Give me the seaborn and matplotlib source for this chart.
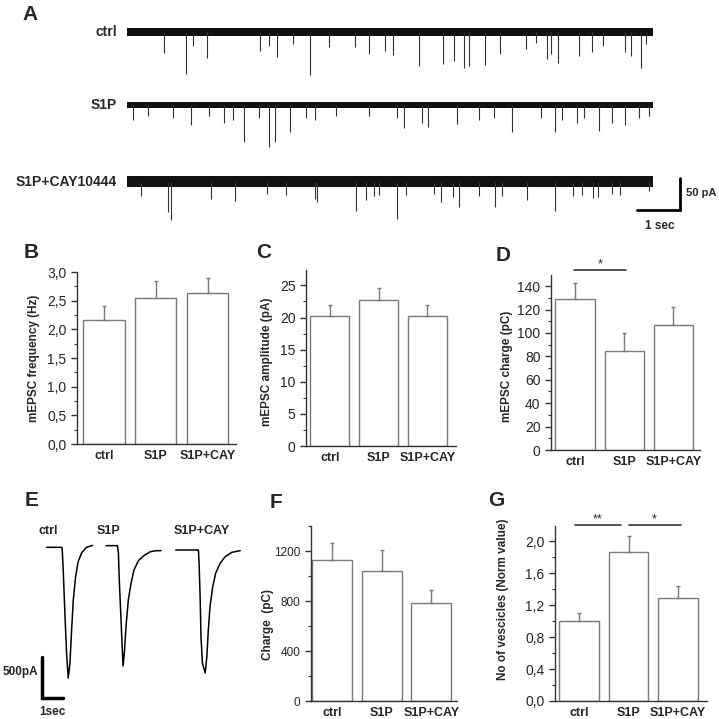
import numpy as np
import seaborn as sns
import matplotlib.pyplot as plt
from matplotlib.ticker import MultipleLocator, FuncFormatter

# ---- data ----
groups = ['ctrl', 'S1P', 'S1P+CAY']

freq_mean = [2.16, 2.54, 2.64]
freq_sem = [0.25, 0.30, 0.25]
amp_mean = [20.3, 22.7, 20.2]
amp_sem = [1.6, 1.9, 1.7]
charge_mean = [129, 85, 107]
charge_sem = [14, 15, 15]
evoked_mean = [1128, 1037, 781]
evoked_sem = [133, 171, 104]
vesicle_mean = [1.00, 1.87, 1.29]
vesicle_sem = [0.10, 0.19, 0.15]

# panel A: spontaneous events (time in s, amplitude in pA) per trace
trace_names = ['ctrl', 'S1P', 'S1P+CAY10444']
trace_offsets = [0, -114, -234]
trace_noise = [6, 5, 8.5]
trace_len = 12.23
ctrl_ev_t = [0.86, 1.37, 1.53, 1.86, 3.10, 3.30, 3.50, 3.86, 4.26, 4.70, 5.30, 5.63, 6.01, 6.19,
             6.79, 7.36, 7.60, 7.83, 7.95, 8.33, 8.67, 9.28, 9.51, 9.76, 9.87, 10.03, 10.51,
             10.81, 11.07, 11.59, 11.73, 11.95, 12.07]
ctrl_ev_a = [32, 65, 22, 40, 30, 22, 39, 19, 67, 24, 23, 34, 30, 36, 53, 50, 46, 56, 53, 52,
             34, 26, 17, 42, 35, 48, 38, 31, 22, 31, 38, 56, 19]
s1p_ev_t = [0.14, 0.50, 1.06, 1.50, 1.90, 2.25, 2.46, 2.73, 3.06, 3.30, 3.45, 3.78, 4.17, 4.38,
            4.86, 5.62, 6.27, 6.44, 6.87, 7.01, 7.67, 8.19, 8.53, 8.95, 9.63, 9.95, 10.11,
            10.47, 10.63, 10.97, 11.29, 11.59, 11.91, 12.15]
s1p_ev_a = [23, 17, 20, 32, 17, 28, 23, 58, 20, 65, 58, 43, 21, 23, 17, 17, 20, 36, 28, 34,
            30, 23, 21, 42, 20, 42, 23, 28, 21, 41, 28, 32, 20, 17]
cay_ev_t = [0.32, 0.96, 1.02, 1.96, 2.52, 3.26, 3.70, 4.38, 4.42, 5.32, 5.57, 5.75, 5.87, 6.27,
            6.49, 7.15, 7.31, 7.59, 7.73, 8.19, 8.56, 8.73, 9.31, 9.95, 10.37, 10.59, 10.83,
            10.95, 11.27, 11.47, 12.15]
cay_ev_a = [22, 48, 59, 27, 30, 19, 20, 27, 32, 46, 28, 22, 21, 58, 21, 19, 32, 24, 40, 22,
            39, 23, 28, 46, 22, 21, 26, 24, 19, 20, 15]

# panel E: averaged mEPSC waveforms (s, pA)
wave_starts = [2.22, 5.05, 8.37]
ctrl_wt = [0, 0.71, 0.74, 0.79, 0.87, 0.95, 1.03, 1.11, 1.19, 1.27, 1.38, 1.50, 1.67, 1.90, 2.19]
ctrl_wi = [0, 0, -12, -277, -805, -1293, -1594, -1415, -1009, -643, -359, -176, -66, 0, 24]
s1p_wt = [0, 0.54, 0.59, 0.63, 0.70, 0.76, 0.81, 0.87, 0.95, 1.06, 1.19, 1.33, 1.54, 1.78, 2.10,
          2.41, 2.62]
s1p_wi = [20, 20, -73, -399, -805, -1171, -1448, -1293, -968, -643, -439, -277, -163, -106, -54,
          -41, -41]
cay_wt = [0, 1.08, 1.11, 1.16, 1.20, 1.27, 1.40, 1.48, 1.55, 1.63, 1.76, 1.90, 2.11, 2.35, 2.67, 3.07]
cay_wi = [-33, -33, -195, -602, -1090, -1415, -1533, -1334, -1009, -724, -480, -317, -195, -115,
          -61, -41]

sns.set_style('ticks')
plt.rcParams['font.family'] = ['Liberation Sans', 'DejaVu Sans']

W = H = 719
fig = plt.figure(figsize=(W / 100, H / 100), dpi=100)
fig.patch.set_facecolor('white')


def px_axes(left, top, right, bottom):
    return fig.add_axes([left / W, 1 - bottom / H, (right - left) / W, (bottom - top) / H])


def letter(x, y, s):
    fig.text(x / W, 1 - y / H, s, fontsize=15, fontweight='bold', ha='center', va='center')


def comma(decimals):
    return FuncFormatter(lambda v, p: f'{v:.{decimals}f}'.replace('.', ','))


def bar_panel(box, means, sems, ylim, xlim, major, minor, ylabel, label_xy, fmt=None, tick_size=10):
    ax = px_axes(*box)
    sns.barplot(x=groups, y=means, ax=ax, color='white', edgecolor='#7a7a7a',
                linewidth=1, width=0.8, errorbar=None, saturation=1)
    ax.errorbar(range(3), means, yerr=[[0, 0, 0], sems], fmt='none', ecolor='#7a7a7a',
                elinewidth=1, capsize=1.5, capthick=1)
    ax.set_ylim(*ylim)
    ax.set_xlim(*xlim)
    ax.yaxis.set_major_locator(MultipleLocator(major))
    ax.yaxis.set_minor_locator(MultipleLocator(minor))
    if fmt is not None:
        ax.yaxis.set_major_formatter(fmt)
    ax.tick_params(axis='y', which='major', length=4, width=1, labelsize=tick_size, color='#333333')
    ax.tick_params(axis='y', which='minor', length=2, width=0.8, color='#333333')
    ax.tick_params(axis='x', length=0, labelsize=9, pad=4)
    for t in ax.get_xticklabels():
        t.set_fontweight('bold')
    sns.despine(ax=ax)
    for s in ['left', 'bottom']:
        ax.spines[s].set_color('#333333')
        ax.spines[s].set_linewidth(1)
    ax.set_xlabel('')
    ax.set_ylabel(ylabel, fontsize=8.5, fontweight='bold')
    ax.yaxis.set_label_coords(*label_xy)
    ax.set_facecolor('none')
    return ax


def sig_bar(ax, x0, x1, y, text):
    ax.plot([x0, x1], [y, y], color='#333333', lw=1.2, clip_on=False)
    ax.text((x0 + x1) / 2, y, text, ha='center', va='bottom', fontsize=9, clip_on=False)


# ---- panel A ----
axA = px_axes(127, 15, 719, 240)
axA.set_xlim(0, 13.77)
axA.set_ylim(-325, 26.6)
axA.axis('off')
events = [(ctrl_ev_t, ctrl_ev_a), (s1p_ev_t, s1p_ev_a), (cay_ev_t, cay_ev_a)]
for name, base, noise, (et, ea) in zip(trace_names, trace_offsets, trace_noise, events):
    axA.fill_between([0, trace_len], base - noise, base + noise, color='#111111', lw=0)
    axA.vlines(et, base, base - np.array(ea), color='#333333', lw=0.8)
    axA.text(-0.23, base, name, ha='right', va='center', fontsize=10, fontweight='bold')
axA.plot([11.86, 12.86, 12.86], [-278, -278, -228], color='black', lw=2, solid_joinstyle='miter')
axA.text(13.0, -252, '50 pA', ha='left', va='center', fontsize=8, fontweight='bold')
axA.text(12.4, -303, '1 sec', ha='center', va='center', fontsize=8.5, fontweight='bold')
letter(30, 15, 'A')

# ---- panels B, C, D ----
axB = bar_panel((77, 272, 236, 444), freq_mean, freq_sem, (0, 3.0), (-0.52, 2.55), 0.5, 0.25,
                'mEPSC frequency (Hz)', (-0.233, 0.5), comma(1))
letter(31, 253, 'B')
axC = bar_panel((306, 270, 456, 446), amp_mean, amp_sem, (0, 27.4), (-0.49, 2.59), 5, 2.5,
                'mEPSC amplitude (pA)', (-0.22, 0.48))
letter(264, 253, 'C')
axD = bar_panel((551, 275, 700, 450), charge_mean, charge_sem, (0, 149.5), (-0.49, 2.54), 20, 10,
                'mEPSC charge (pC)', (-0.255, 0.48))
sig_bar(axD, -0.02, 1.04, 153.5, '*')
letter(503, 256, 'D')

# ---- panel E ----
axE = px_axes(0, 520, 250, 719)
axE.set_xlim(0, 250 / 21)
axE.set_ylim(-2094, 333)
axE.axis('off')
waves = [(ctrl_wt, ctrl_wi), (s1p_wt, s1p_wi), (cay_wt, cay_wi)]
for start, (wt, wi) in zip(wave_starts, waves):
    axE.plot(np.array(wt) + start, wi, color='black', lw=1.1)
for x, g in zip([2.29, 5.19, 9.62], groups):
    axE.text(x, 198, g, ha='center', va='center', fontsize=9, fontweight='bold')
axE.plot([3.0, 2.0, 2.0], [-1838, -1838, -1338], color='black', lw=2.5, solid_joinstyle='miter')
axE.text(1.81, -1518, '500pA', ha='right', va='center', fontsize=8.5, fontweight='bold')
axE.text(2.52, -2006, '1sec', ha='center', va='center', fontsize=8.5, fontweight='bold')
letter(32, 500, 'E')

# ---- panels F, G ----
axF = bar_panel((311, 526, 457, 701), evoked_mean, evoked_sem, (0, 1400), (-0.43, 2.52), 400, 200,
                'Charge  (pC)', (-0.25, 0.44), tick_size=8.5)
letter(276, 502, 'F')
axG = bar_panel((555, 526, 707, 701), vesicle_mean, vesicle_sem, (0, 2.19), (-0.48, 2.58), 0.4, 0.2,
                'No of vescicles (Norm value)', (-0.30, 0.58), comma(1))
sig_bar(axG, -0.08, 0.84, 2.2, '**')
sig_bar(axG, 1.0, 2.05, 2.2, '*')
letter(496, 500, 'G')

fig.savefig('out.png', dpi=100, facecolor='white')
